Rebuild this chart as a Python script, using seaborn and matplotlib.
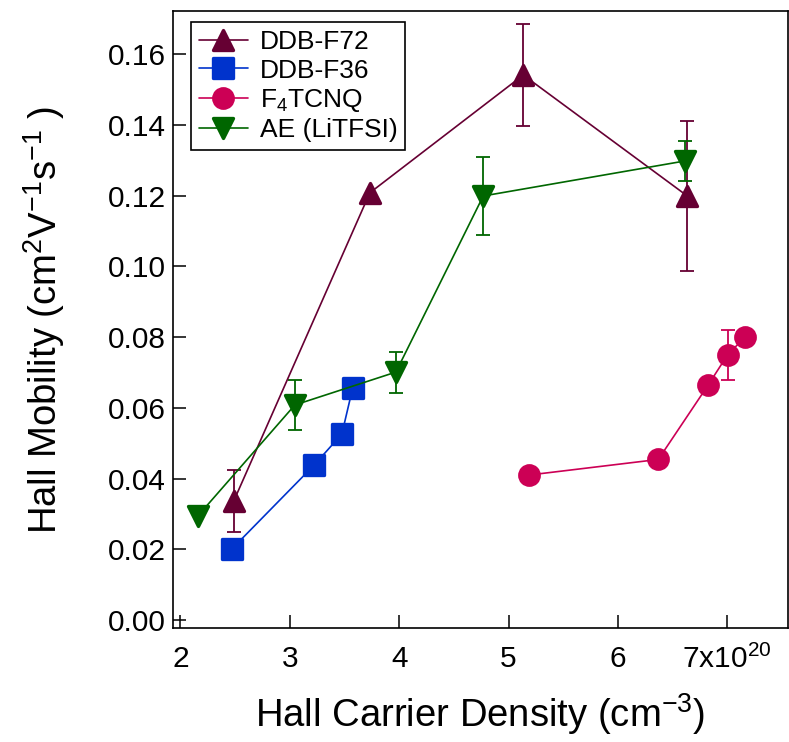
import numpy as np
import pandas as pd
import matplotlib
matplotlib.use("Agg")
import matplotlib.pyplot as plt
from matplotlib.markers import MarkerStyle
import seaborn as sns

# ---- data ----
ddb72_x = [2.488, 3.732, 5.135, 6.635]
ddb72_y = [0.0337, 0.1208, 0.1541, 0.1199]
ddb72_err = [0.0087, np.nan, 0.0143, 0.0212]

ddb36_x = [2.467, 3.222, 3.476, 3.574]
ddb36_y = [0.0200, 0.0438, 0.0526, 0.0655]
ddb36_err = [np.nan, np.nan, np.nan, np.nan]

f4_x = [5.19, 6.370, 6.827, 7.004, 7.163]
f4_y = [0.0410, 0.0454, 0.0665, 0.0750, 0.0800]
f4_err = [np.nan, np.nan, np.nan, 0.0071, np.nan]

ae_x = [2.161, 3.046, 3.970, 4.769, 6.614]
ae_y = [0.0295, 0.0608, 0.0701, 0.1199, 0.1298]
ae_err = [np.nan, 0.0071, 0.0058, 0.0110, 0.0057]

labels = ["DDB-F72", "DDB-F36", r"F$_4$TCNQ", "AE (LiTFSI)"]
colors = ["#660033", "#0033cc", "#cc0055", "#006600"]
markers = ["^", "s", "o", "v"]

x_ticks = [2, 3, 4, 5, 6, 7]
x_tick_labels = ["2", "3", "4", "5", "6", r"7x10$^{20}$"]
y_ticks = [0.00, 0.02, 0.04, 0.06, 0.08, 0.10, 0.12, 0.14, 0.16]
y_tick_labels = ["0.00", "0.02", "0.04", "0.06", "0.08", "0.10", "0.12", "0.14", "0.16"]

series = [
    (ddb72_x, ddb72_y, ddb72_err),
    (ddb36_x, ddb36_y, ddb36_err),
    (f4_x, f4_y, f4_err),
    (ae_x, ae_y, ae_err),
]

# ---- style ----
sns.set_theme(style="white")
plt.rcParams["font.family"] = ["Liberation Sans", "DejaVu Sans"]
plt.rcParams["mathtext.fontset"] = "custom"
plt.rcParams["mathtext.rm"] = "Liberation Sans"
plt.rcParams["mathtext.it"] = "Liberation Sans:italic"
plt.rcParams["mathtext.bf"] = "Liberation Sans:bold"

W, H = 789, 742
fig = plt.figure(figsize=(W / 100, H / 100), dpi=100)
left_px, right_px, top_px, bottom_px = 172.5, 788.0, 11.0, 628.0
ax = fig.add_axes([left_px / W, 1 - bottom_px / H,
                   (right_px - left_px) / W, (bottom_px - top_px) / H])

handles = []
for (xs, ys, errs), lab, col, mk in zip(series, labels, colors, markers):
    df = pd.DataFrame({"x": xs, "y": ys, "err": errs})
    e = df.dropna(subset=["err"])
    if len(e):
        ax.errorbar(e["x"], e["y"], yerr=e["err"], fmt="none", ecolor=col,
                    elinewidth=1.3, capsize=4.7, capthick=1.3, zorder=1.5)
    ms = MarkerStyle(mk, joinstyle="round")
    sns.lineplot(data=df, x="x", y="y", ax=ax, color=col, sort=False,
                 estimator=None, linewidth=1.2, marker=ms, markersize=14,
                 markeredgewidth=2.4, markeredgecolor=col,
                 markerfacecolor=col, label=lab, zorder=2)
    handles.append(ax.lines[-1])

ax.set_xlim(1.927, 7.556)
ax.set_ylim(-0.00226, 0.1722)
ax.set_xticks(x_ticks)
ax.set_xticklabels(x_tick_labels)
ax.set_yticks(y_ticks)
ax.set_yticklabels(y_tick_labels)

ax.tick_params(axis="both", which="major", direction="in", length=9.5,
               width=1.1, colors="black", labelsize=21.5,
               bottom=True, left=True, top=False, right=False)
ax.tick_params(axis="x", pad=12)
ax.tick_params(axis="y", pad=5)
for s in ax.spines.values():
    s.set_visible(True)
    s.set_color("black")
    s.set_linewidth(1.2)

ax.set_xlabel(r"Hall Carrier Density (cm$^{-3}$)", fontsize=27.5, color="black")
ax.set_ylabel(r"Hall Mobility (cm$^{2}$V$^{-1}$s$^{-1}$ )", fontsize=27.5, color="black")
ax.xaxis.set_label_coords(0.5, -0.103)
ax.yaxis.set_label_coords(-0.172, 0.5)

leg = ax.legend(handles=handles, labels=labels, loc="upper left",
                bbox_to_anchor=(0.030, 0.982), fontsize=19, frameon=True,
                fancybox=False, framealpha=1, edgecolor="black",
                handlelength=1.85, handletextpad=0.45, labelspacing=0.17,
                borderpad=0.3, borderaxespad=0.0)
leg.get_frame().set_linewidth(1.2)
for t in leg.get_texts():
    t.set_color("black")

fig.savefig("out.png", dpi=100)
